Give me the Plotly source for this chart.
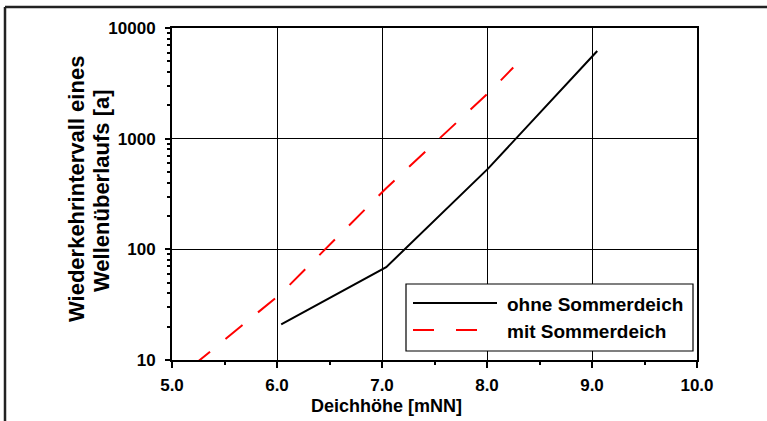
import plotly.graph_objects as go

# ---- data ----
x_ohne = [6.04, 7.04, 8.01, 9.05]
y_ohne = [21, 69, 536, 6200]
x_mit = [5.2, 6.04, 7.04, 8.04, 8.25]
y_mit = [8.9, 40, 357, 2740, 4400]
name_ohne = "ohne Sommerdeich"
name_mit = "mit Sommerdeich"
x_ticks = [5, 6, 7, 8, 9, 10]
x_ticktext = ["5.0", "6.0", "7.0", "8.0", "9.0", "10.0"]
y_ticks = [10, 100, 1000, 10000]
y_ticktext = ["10", "100", "1000", "10000"]
x_title = "Deichhöhe [mNN]"
y_title_1 = "Wiederkehrintervall eines"
y_title_2 = "Wellenüberlaufs [a]"

W, H = 767, 421
L, R, T, B = 172, 70, 28, 61
PW, PH = W - L - R, H - T - B


def px(x):
    return (x - L) / PW


def py(y):
    return (H - B - y) / PH


FONT = "Liberation Sans, Arial, sans-serif"
DASH = "22px,20px"

fig = go.Figure()
fig.add_trace(go.Scatter(x=x_ohne, y=y_ohne, mode="lines", name=name_ohne,
                         line=dict(color="black", width=2), showlegend=False))
fig.add_trace(go.Scatter(x=x_mit, y=y_mit, mode="lines", name=name_mit,
                         line=dict(color="#ff0000", width=2, dash=DASH), showlegend=False))

minor_y = [k * 10 ** d for d in range(1, 4) for k in range(2, 10)]
minor_x = [v + 0.5 for v in x_ticks[:-1]]

fig.update_xaxes(range=[5, 10], tickvals=x_ticks, ticktext=x_ticktext,
                 showline=True, linecolor="black", linewidth=2, mirror=True,
                 ticks="outside", ticklen=6, tickwidth=2, tickcolor="black",
                 showgrid=True, gridcolor="black", gridwidth=1, zeroline=False,
                 tickfont=dict(family=FONT, size=17, color="black", weight="bold"),
                 ticklabelstandoff=3,
                 minor=dict(tickvals=minor_x, ticks="outside", ticklen=3, tickwidth=2,
                            tickcolor="black", showgrid=False))
fig.update_yaxes(type="log", range=[1, 4], tickvals=y_ticks, ticktext=y_ticktext,
                 showline=True, linecolor="black", linewidth=2, mirror=True,
                 ticks="outside", ticklen=5, tickwidth=2, tickcolor="black",
                 showgrid=True, gridcolor="black", gridwidth=1, zeroline=False,
                 tickfont=dict(family=FONT, size=17, color="black", weight="bold"),
                 ticklabelstandoff=6,
                 minor=dict(tickvals=minor_y, ticks="outside", ticklen=3, tickwidth=1.5,
                            tickcolor="black", showgrid=False))

shapes = []
# outer frame (top and left edges visible)
shapes.append(dict(type="line", xref="paper", yref="paper", x0=px(5), x1=px(780),
                   y0=py(7), y1=py(7), line=dict(color="#222", width=2.5), layer="above"))
shapes.append(dict(type="line", xref="paper", yref="paper", x0=px(5), x1=px(5),
                   y0=py(7), y1=py(430), line=dict(color="#222", width=2.5), layer="above"))
# legend box
shapes.append(dict(type="rect", xref="paper", yref="paper", x0=px(406), x1=px(693),
                   y0=py(351), y1=py(284), line=dict(color="black", width=1.2),
                   fillcolor="white", layer="above"))
shapes.append(dict(type="line", xref="paper", yref="paper", x0=px(413), x1=px(497),
                   y0=py(303), y1=py(303), line=dict(color="black", width=2), layer="above"))
shapes.append(dict(type="line", xref="paper", yref="paper", x0=px(413), x1=px(497),
                   y0=py(330), y1=py(330), line=dict(color="#ff0000", width=2, dash="21px,22px"),
                   layer="above"))

ann = []
ann.append(dict(text=name_ohne, xref="paper", yref="paper", x=px(505), y=py(304),
                xanchor="left", yanchor="middle", showarrow=False,
                font=dict(family=FONT, size=19, color="black", weight="bold")))
ann.append(dict(text=name_mit, xref="paper", yref="paper", x=px(505), y=py(331),
                xanchor="left", yanchor="middle", showarrow=False,
                font=dict(family=FONT, size=19, color="black", weight="bold")))
ann.append(dict(text=x_title, xref="paper", yref="paper", x=px(386), y=py(406),
                xanchor="center", yanchor="middle", showarrow=False,
                font=dict(family=FONT, size=18, color="black", weight="bold")))
ann.append(dict(text=y_title_1, xref="paper", yref="paper", x=px(76), y=py(189),
                xanchor="center", yanchor="middle", showarrow=False, textangle=-90,
                font=dict(family=FONT, size=22, color="black", weight="bold")))
ann.append(dict(text=y_title_2, xref="paper", yref="paper", x=px(101), y=py(191),
                xanchor="center", yanchor="middle", showarrow=False, textangle=-90,
                font=dict(family=FONT, size=22, color="black", weight="bold")))

fig.update_layout(width=W, height=H, margin=dict(l=L, r=R, t=T, b=B),
                  paper_bgcolor="white", plot_bgcolor="white",
                  shapes=shapes, annotations=ann, showlegend=False,
                  font=dict(family=FONT, color="black"))

fig.write_html("out.html")
